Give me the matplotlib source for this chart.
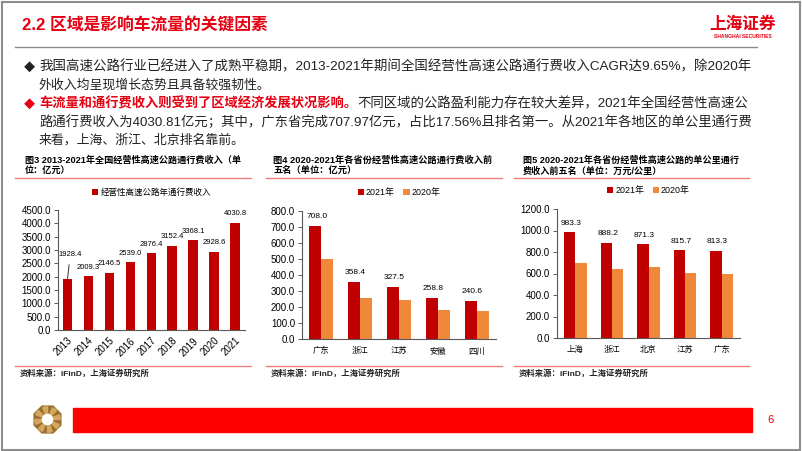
import matplotlib
matplotlib.use("Agg")
import matplotlib.pyplot as plt
import numpy as np
from matplotlib.lines import Line2D
from matplotlib.patches import Rectangle, RegularPolygon, Circle, Wedge

plt.rcParams['font.family'] = ['Liberation Sans', 'Noto Sans CJK SC', 'DejaVu Sans']

# ---- data ----
years = ['2013', '2014', '2015', '2016', '2017', '2018', '2019', '2020', '2021']
toll_income = [1928.4, 2009.3, 2146.5, 2539.0, 2876.4, 3152.4, 3368.1, 2928.6, 4030.8]

prov_names = ['广东', '浙江', '江苏', '安徽', '四川']
prov_2021 = [708.0, 358.4, 327.5, 258.8, 240.6]
prov_2020 = [497.0, 256.0, 243.0, 182.0, 178.0]

km_names = ['上海', '浙江', '北京', '江苏', '广东']
km_2021 = [983.3, 888.2, 871.3, 815.7, 813.3]
km_2020 = [700.0, 646.0, 662.0, 609.0, 600.0]

RED = '#C00000'
ORANGE = '#F0883A'
BRIGHT = '#E60012'
AXC = '#595959'
TXT = '#222222'

W, H = 802, 451
fig = plt.figure(figsize=(W / 100, H / 100), dpi=100)
renderer = fig.canvas.get_renderer()


def fx(x):
    return x / W


def fy(y):
    return 1 - y / H


def ptext(x, y, s, **kw):
    return fig.text(fx(x), fy(y), s, **kw)


def fit_text(x, y, s, x_end, fs, **kw):
    # scale the font so that the line ends where it does in the slide
    t = ptext(x, y, s, fontsize=fs, **kw)
    w = t.get_window_extent(renderer=renderer).width
    t.set_fontsize(fs * (x_end - x) / w)
    return t


def hline(x0, x1, y, color, lw=1.0):
    fig.add_artist(Line2D([fx(x0), fx(x1)], [fy(y), fy(y)], color=color, lw=lw))


def add_ax(left, top, right, bottom):
    return fig.add_axes([fx(left), fy(bottom), (right - left) / W, (bottom - top) / H])


# slide frame and header
fig.add_artist(Rectangle((0.002, 0.003), 0.996, 0.993, fill=False,
                         edgecolor='#8c8c8c', lw=1.5, transform=fig.transFigure))
fit_text(22, 25, '2.2 区域是影响车流量的关键因素', 268, 12, color=BRIGHT,
         fontweight='bold', va='center')
ptext(743, 24, '上海证券', color=BRIGHT, fontsize=12, fontweight='bold',
      ha='center', va='center')
ptext(743, 36, 'SHANGHAI SECURITIES', color=BRIGHT, fontsize=3.6,
      fontweight='bold', ha='center', va='center')
hline(15, 757, 47, '#8c8c8c', 1.0)

# bullet text
fs = 9.3
ptext(24, 67, '◆', fontsize=8, va='center', color=TXT)
fit_text(39, 67, '我国高速公路行业已经进入了成熟平稳期，2013-2021年期间全国经营性高速公路通行费收入CAGR达9.65%，除2020年',
         748, fs, va='center', color=TXT)
fit_text(39, 85, '外收入均呈现增长态势且具备较强韧性。', 271, fs, va='center', color=TXT)
ptext(24, 104, '◆', fontsize=8, va='center', color=BRIGHT)
fit_text(39, 104, '车流量和通行费收入则受到了区域经济发展状况影响。', 357, fs,
         va='center', color=BRIGHT, fontweight='bold')
fit_text(357, 104, '不同区域的公路盈利能力存在较大差异，2021年全国经营性高速公', 748, fs,
         va='center', color=TXT)
fit_text(39, 122, '路通行费收入为4030.81亿元；其中，广东省完成707.97亿元，占比17.56%且排名第一。从2021年各地区的单公里通行费',
         748, fs, va='center', color=TXT)
fit_text(39, 140, '来看，上海、浙江、北京排名靠前。', 245, fs, va='center', color=TXT)

# panel frames
panels = [
    (15, 251, 25, 243, '图3 2013-2021年全国经营性高速公路通行费收入（单', '位：亿元）'),
    (266, 502, 273, 492, '图4 2020-2021年各省份经营性高速公路通行费收入前', '五名（单位：亿元）'),
    (514, 749, 523, 739, '图5 2020-2021年各省份经营性高速公路的单公里通行', '费收入前五名（单位：万元/公里）'),
]
for x0, x1, tx0, tx1, l1, l2 in panels:
    t = fit_text(tx0, 160, l1, tx1, 6.8, fontweight='bold', va='center')
    ptext(tx0, 171, l2, fontsize=t.get_fontsize(), fontweight='bold', va='center')
    hline(x0, x1, 178, '#F08080', 1.0)
    hline(x0, x1, 366, '#F08080', 1.0)
    ptext(x0 + 5, 374, '资料来源：iFinD，上海证券研究所', fontsize=6, va='center',
          fontweight='bold', color=TXT)


def style_axes(ax):
    for s in ['top', 'right']:
        ax.spines[s].set_visible(False)
    for s in ['left', 'bottom']:
        ax.spines[s].set_color(AXC)
        ax.spines[s].set_linewidth(0.8)
    ax.tick_params(axis='y', length=3, width=0.7, color=AXC, labelsize=7, pad=2)
    ax.tick_params(axis='x', length=0, labelsize=7, pad=4)
    ax.yaxis.set_major_formatter(matplotlib.ticker.StrMethodFormatter('{x:.1f}'))


# ---- chart 1 ----
ax1 = add_ax(58, 210, 245, 330)
x1 = np.arange(len(years))
ax1.bar(x1, toll_income, width=0.45, color=RED, label='经营性高速公路年通行费收入')
ax1.set_xlim(-0.455, 8.48)
ax1.set_ylim(0, 4500)
ax1.set_yticks(np.arange(0, 4501, 500))
ax1.set_xticks(x1)
ax1.set_xticklabels(years, rotation=45, ha='right', rotation_mode='anchor')
style_axes(ax1)
for i, v in enumerate(toll_income):
    if i == 0:
        ax1.annotate(f'{v:.1f}', (i, v), xytext=(2, 17.5), textcoords='offset points',
                     ha='center', va='center', fontsize=5.5,
                     arrowprops=dict(arrowstyle='-', color='#333333', lw=0.7,
                                     shrinkA=3, shrinkB=0))
    else:
        ax1.annotate(f'{v:.1f}', (i, v), xytext=(0, 6.5), textcoords='offset points',
                     ha='center', va='center', fontsize=5.5)
ax1.legend(loc='lower center', bbox_to_anchor=(0.5, 1.08), frameon=False, fontsize=6.1,
           handlelength=0.7, handleheight=0.7, handletextpad=0.3, borderaxespad=0)


# ---- chart 2 & 3 ----
def grouped(ax, names, v21, v20, ymax, step):
    x = np.arange(len(names))
    w = 0.31
    ax.bar(x - w / 2, v21, width=w, color=RED, label='2021年')
    ax.bar(x + w / 2, v20, width=w, color=ORANGE, label='2020年')
    ax.set_xlim(-0.5, len(names) - 0.5)
    ax.set_ylim(0, ymax)
    ax.set_yticks(np.arange(0, ymax + 1, step))
    ax.set_xticks(x)
    ax.set_xticklabels(names)
    style_axes(ax)
    ax.tick_params(axis='x', labelsize=6, pad=6)
    for i, v in enumerate(v21):
        ax.annotate(f'{v:.1f}', (i - w / 2, v), xytext=(1, 6.5), textcoords='offset points',
                    ha='center', va='center', fontsize=6)
    ax.legend(loc='lower center', bbox_to_anchor=(0.5, 1.08), frameon=False, fontsize=6.4,
              ncol=2, handlelength=0.7, handleheight=0.7, handletextpad=0.2,
              columnspacing=1.0, borderaxespad=0)


ax2 = add_ax(302, 211, 496, 339)
grouped(ax2, prov_names, prov_2021, prov_2020, 800, 100)

ax3 = add_ax(557, 209, 740, 338)
grouped(ax3, km_names, km_2021, km_2020, 1200, 200)

# footer
fig.add_artist(Rectangle((fx(73), fy(432)), (752 - 73) / W, 24 / H, color='#FF0000',
                         transform=fig.transFigure))
ax_logo = fig.add_axes([fx(33), fy(434), 29 / W, 29 / H])
ax_logo.set_xlim(-1, 1)
ax_logo.set_ylim(-1, 1)
ax_logo.axis('off')
ax_logo.add_patch(RegularPolygon((0, 0), 8, radius=1.0, orientation=np.pi / 8, color='#9C6E2E'))
for k in range(8):
    a = k * 45
    ax_logo.add_patch(Wedge((0, 0), 0.88, a, a + 22, color='#D3A75E'))
ax_logo.add_patch(Circle((0, 0), 0.35, color='white'))
ptext(771, 420, '6', color='#FF0000', fontsize=8, ha='center', va='center')

fig.savefig('out.png', dpi=100)
